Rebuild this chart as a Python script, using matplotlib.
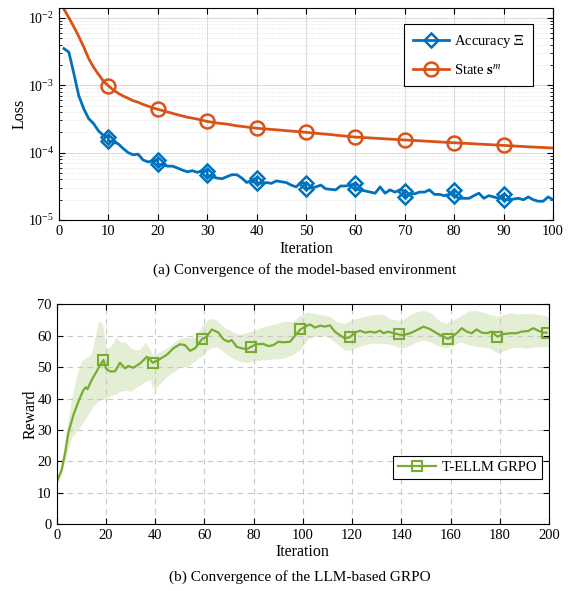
import numpy as np
import matplotlib
matplotlib.use("Agg")
import matplotlib.pyplot as plt
from matplotlib.ticker import LogLocator, NullFormatter

plt.rcParams["font.family"] = ["Liberation Serif", "DejaVu Serif"]
plt.rcParams["mathtext.fontset"] = "stix"

# ---- (a) model-based environment ----
acc_x = [1, 2, 3, 4, 5, 6, 7, 8, 9, 10, 10, 11, 12, 13, 14, 15, 16, 17, 18, 19,
         20, 20, 21, 22, 23, 24, 25, 26, 27, 28, 29, 30, 30, 31, 32, 33, 34, 35, 36, 37,
         38, 39, 40, 40, 41, 42, 43, 44, 45, 46, 47, 48, 49, 50, 50, 51, 52, 53, 54, 55,
         56, 57, 58, 59, 60, 60, 61, 62, 63, 64, 65, 66, 67, 68, 69, 70, 70, 71, 72, 73,
         74, 75, 76, 77, 78, 79, 80, 80, 81, 82, 83, 84, 85, 86, 87, 88, 89, 90, 90, 91,
         92, 93, 94, 95, 96, 97, 98, 99, 100]
acc_loss = [3.5e-3, 3.1e-3, 1.5e-3, 7.0e-4, 4.5e-4, 3.2e-4, 2.7e-4, 2.1e-4, 1.8e-4,
            1.7e-4, 1.5e-4, 1.45e-4, 1.35e-4, 1.15e-4, 1.0e-4, 9.3e-5, 9.5e-5, 7.8e-5,
            7.3e-5, 7.5e-5, 7.8e-5, 6.7e-5, 6.6e-5, 6.3e-5, 6.3e-5, 5.9e-5, 5.5e-5,
            5.2e-5, 5.4e-5, 5.1e-5, 5.4e-5, 5.4e-5, 4.6e-5, 4.4e-5, 4.2e-5, 4.1e-5,
            4.4e-5, 4.7e-5, 4.7e-5, 4.2e-5, 3.6e-5, 3.9e-5, 4.2e-5, 3.6e-5, 3.5e-5,
            3.6e-5, 3.5e-5, 3.8e-5, 3.7e-5, 3.6e-5, 3.3e-5, 3.1e-5, 3.6e-5, 3.5e-5,
            2.9e-5, 3.0e-5, 3.1e-5, 3.3e-5, 2.9e-5, 2.85e-5, 2.8e-5, 3.2e-5, 3.2e-5,
            3.3e-5, 3.5e-5, 2.9e-5, 2.8e-5, 2.7e-5, 2.6e-5, 2.5e-5, 3.1e-5, 2.5e-5,
            2.8e-5, 2.6e-5, 2.8e-5, 2.7e-5, 2.2e-5, 2.45e-5, 2.45e-5, 2.6e-5, 2.6e-5,
            2.8e-5, 2.4e-5, 2.4e-5, 2.3e-5, 2.4e-5, 2.8e-5, 2.3e-5, 2.1e-5, 2.1e-5,
            2.1e-5, 2.3e-5, 2.5e-5, 2.1e-5, 2.3e-5, 2.2e-5, 2.1e-5, 2.4e-5, 2.0e-5,
            2.0e-5, 2.05e-5, 2.1e-5, 2.0e-5, 2.2e-5, 2.0e-5, 1.9e-5, 1.9e-5, 2.2e-5,
            2.0e-5]

state_x = [0, 1, 2, 3, 4, 5, 6, 7, 8, 9, 10, 11, 12, 13, 14, 15, 16, 17, 18, 19, 20,
           22, 24, 26, 28, 30, 32, 34, 36, 38, 40, 45, 50, 55, 60, 65, 70, 75, 80,
           85, 90, 95, 100]
state_loss = [2.1e-2, 1.35e-2, 1.0e-2, 7.4e-3, 5.3e-3, 3.7e-3, 2.5e-3, 1.85e-3,
              1.45e-3, 1.15e-3, 9.8e-4, 8.5e-4, 7.6e-4, 6.9e-4, 6.4e-4, 5.9e-4,
              5.6e-4, 5.2e-4, 4.9e-4, 4.6e-4, 4.4e-4, 4.0e-4, 3.65e-4, 3.35e-4,
              3.15e-4, 2.9e-4, 2.75e-4, 2.65e-4, 2.5e-4, 2.4e-4, 2.3e-4, 2.15e-4,
              2.0e-4, 1.85e-4, 1.7e-4, 1.62e-4, 1.54e-4, 1.47e-4, 1.4e-4, 1.34e-4,
              1.28e-4, 1.22e-4, 1.17e-4]

loss_markers = [10, 20, 30, 40, 50, 60, 70, 80, 90]

# ---- (b) LLM-based GRPO ----
grpo_x = [0, 2, 3.5, 4.7, 6.8, 8.8, 10.8, 11.9, 12.5, 14.2, 16.2, 17.6, 19, 20, 21.7,
          23.7, 25.7, 27.8, 29.1, 31.1, 33.9, 36.6, 37.6, 39, 41.3, 44.7, 47.4, 50.1,
          52.1, 54.2, 56.2, 59, 60.9, 63, 65.7, 67.7, 69.7, 71.1, 73.1, 75.2, 77.2, 79,
          81.2, 83.9, 86, 88, 90.1, 92.1, 94.8, 97, 99, 100.9, 102.9, 104.9, 107, 109,
          111, 113, 115, 117, 119, 121.2, 123.2, 125.3, 127.3, 129.3, 131.4, 132.7,
          134.7, 136.8, 139, 140.8, 143.6, 146.3, 149, 151.7, 154.4, 157.1, 159, 161.1,
          163.2, 164.5, 166.6, 168.6, 170.6, 172.6, 174.7, 176.7, 179, 181.4, 184.1,
          186.8, 188.8, 191.5, 193.6, 195.6, 197.6, 199]
grpo_reward = [13.3, 17.3, 23, 29, 34.8, 39, 42.7, 43.6, 43, 45.9, 48.6, 50.7, 52.3,
               49.6, 48.6, 48.7, 51.4, 49.6, 50.4, 49.8, 51.2, 53.3, 52.8, 51.4, 52.3,
               53.9, 56, 57.3, 57, 55.2, 56, 58.9, 59.7, 62, 61, 58.9, 58.1, 58.6, 56.5,
               56, 55.7, 56.5, 57.3, 57.4, 56.7, 57, 58.1, 57.9, 58.1, 60.2, 62, 62.9,
               63.6, 62.6, 63.2, 62.9, 63.3, 61.3, 60.2, 59.2, 59.5, 61, 61.6, 61, 61.3,
               61, 61.6, 60.8, 61.3, 60.8, 60.4, 60.2, 60.8, 61.8, 62.9, 62.1, 60.8, 59.7,
               59.0, 59.9, 61.3, 62.4, 61.3, 60.8, 62, 61, 60.8, 61.3, 59.7, 60.5, 60.8,
               60.8, 61.3, 61.5, 62.4, 61.6, 61, 61.0]
grpo_markers = [19, 39, 59, 79, 99, 119, 139, 159, 179, 199]

band_x = [0, 2, 4, 6, 8, 10, 12, 14, 16, 17, 18, 19, 20, 22, 24, 26, 28, 30, 32, 34,
          36, 38, 39, 40, 42, 45, 48, 50, 53, 56, 59, 62, 65, 68, 71, 74, 77, 80, 84,
          88, 92, 96, 99, 102, 105, 108, 111, 114, 117, 120, 124, 128, 132, 136, 140,
          143, 146, 149, 152, 155, 158, 161, 164, 167, 170, 173, 176, 179, 182, 185,
          188, 191, 194, 197, 200]
band_upper = [13.5, 20, 30, 40, 47, 52, 53, 54, 61, 64.5, 64.5, 62.5, 56, 56.5, 59.5,
              58, 58, 56, 55.5, 55.8, 58, 55.5, 54, 54, 55, 56.2, 58, 59.2, 59.5, 59.5,
              63, 65.5, 65, 62.7, 61.5, 60.4, 61, 61.6, 62.9, 63.6, 64.5, 64.5, 66.5,
              67.5, 67, 66.6, 66.1, 64.4, 63.9, 65.1, 66, 66.6, 67, 65.3, 64.8, 66.5,
              67.6, 68.1, 67.3, 65, 64, 65, 66.2, 67.8, 68.1, 67.5, 66.8, 66.2, 66.8,
              67.3, 66.9, 67.1, 66.9, 66.6, 66.1]
band_lower = [13, 16, 22, 27.5, 29.5, 31.5, 34, 36.5, 38.5, 39.3, 39.6, 39.8, 40.2, 41,
              41.4, 42.4, 42.6, 42.3, 43.5, 44.3, 45.5, 46, 43.5, 42.8, 44.9, 47.2, 48.8,
              49.9, 50.2, 52, 53.6, 55.9, 56.5, 54.7, 53, 51.9, 51.4, 52, 52.3, 52.6,
              52.8, 54, 55.7, 58.9, 59.8, 60.1, 59.2, 57.3, 55.3, 55.6, 56.9, 57.6, 57.6,
              57.2, 56.1, 56.7, 58, 58.6, 58, 56.8, 56.1, 56.9, 58.1, 57.2, 56.7, 56.4,
              56, 54.5, 55.3, 56.2, 56.3, 56, 56.4, 56.5, 56.5]

BLUE = "#0072BD"
ORANGE = "#D95319"
GREEN = "#77AC30"


def marker_idx(xs, marks):
    return [i for i, x in enumerate(xs) if x in marks]


fig = plt.figure(figsize=(5.71, 5.91), dpi=100)
ax1 = fig.add_axes([0.1033, 0.6277, 0.8652, 0.3588])
ax2 = fig.add_axes([0.0993, 0.1129, 0.8622, 0.3722])

# top panel
ax1.semilogy(acc_x, acc_loss, color=BLUE, lw=2, marker="D", ms=7.5,
             mfc="none", mew=1.8, markevery=marker_idx(acc_x, loss_markers),
             label=r"Accuracy $\Xi$")
ax1.semilogy(state_x, state_loss, color=ORANGE, lw=2, marker="o", ms=10,
             mfc="none", mew=1.8, markevery=marker_idx(state_x, loss_markers),
             label=r"State $\mathbf{s}^{m}$")
ax1.set_xlim(0, 100)
ax1.set_ylim(1e-5, 1.4e-2)
ax1.set_xticks(np.arange(0, 101, 10))
ax1.yaxis.set_major_locator(LogLocator(base=10, numticks=10))
ax1.yaxis.set_minor_locator(LogLocator(base=10, subs=np.arange(2, 10), numticks=20))
ax1.yaxis.set_minor_formatter(NullFormatter())
ax1.grid(True, which="major", color="#dcdcdc", lw=0.8, ls="-")
ax1.grid(True, which="minor", axis="y", color="#d8d8d8", lw=0.6, ls=(0, (1, 2)))
ax1.tick_params(which="both", direction="in", top=True, right=True, labelsize=10.5)
ax1.tick_params(axis="y", which="major", labelsize=10)
ax1.tick_params(which="major", length=4)
ax1.tick_params(which="minor", length=2.5)
ax1.set_xlabel("Iteration", fontsize=11.5, labelpad=2)
ax1.set_ylabel("Loss", fontsize=11.5, labelpad=0)
leg1 = ax1.legend(loc="upper right", bbox_to_anchor=(0.96, 0.925), borderaxespad=0,
                  fontsize=10.5, fancybox=False, edgecolor="black", framealpha=1,
                  handlelength=2.5, handletextpad=0.3, labelspacing=0.9,
                  borderpad=0.6)
leg1.get_frame().set_linewidth(0.8)
for sp in ax1.spines.values():
    sp.set_linewidth(0.8)

# bottom panel
ax2.fill_between(band_x, band_lower, band_upper, color=GREEN, alpha=0.2, lw=0)
ax2.plot(grpo_x, grpo_reward, color=GREEN, lw=1.6, marker="s", ms=7.5,
         mfc="none", mew=1.5, markevery=marker_idx(grpo_x, grpo_markers),
         label="T-ELLM GRPO")
ax2.set_xlim(0, 200)
ax2.set_ylim(0, 70)
ax2.set_xticks(np.arange(0, 201, 20))
ax2.set_yticks(np.arange(0, 71, 10))
ax2.grid(True, color="#c8c8c8", lw=0.8, ls=(0, (5, 4)))
ax2.tick_params(direction="in", top=True, right=True, labelsize=10.5, length=4)
ax2.set_xlabel("Iteration", fontsize=11.5, labelpad=1)
ax2.set_ylabel("Reward", fontsize=11.5, labelpad=-1)
leg2 = ax2.legend(loc="lower right", bbox_to_anchor=(0.985, 0.205), borderaxespad=0,
                  fontsize=10.5, fancybox=False, edgecolor="black", framealpha=1,
                  handlelength=2.6, handletextpad=0.4, borderpad=0.35)
leg2.get_frame().set_linewidth(0.8)
for sp in ax2.spines.values():
    sp.set_linewidth(0.8)

fig.text(0.534, 0.543, "(a) Convergence of the model-based environment",
         ha="center", va="center", fontsize=11)
fig.text(0.525, 0.024, "(b) Convergence of the LLM-based GRPO",
         ha="center", va="center", fontsize=11)

fig.savefig("out.png", dpi=100)
